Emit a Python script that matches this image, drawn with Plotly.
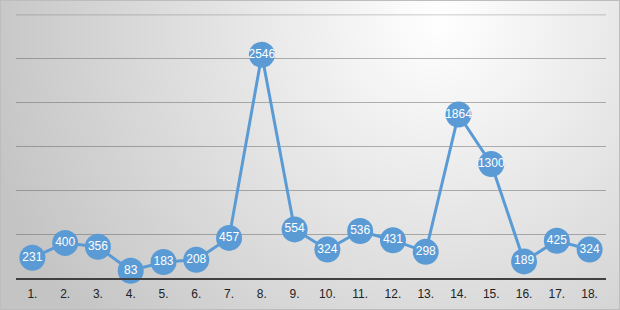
import base64
import plotly.graph_objects as go

categories = ["1.", "2.", "3.", "4.", "5.", "6.", "7.", "8.", "9.", "10.",
              "11.", "12.", "13.", "14.", "15.", "16.", "17.", "18."]
values = [231, 400, 356, 83, 183, 208, 457, 2546, 554, 324,
          536, 431, 298, 1864, 1300, 189, 425, 324]

W, H = 620, 310
ML, MR, MT, MB = 16, 14, 14, 32
PW, PH = W - ML - MR, H - MT - MB

svg = f'''<svg xmlns="http://www.w3.org/2000/svg" width="{W}" height="{H}" viewBox="0 0 {W} {H}">
<defs><radialGradient id="g" gradientUnits="userSpaceOnUse" cx="440" cy="20" r="470">
<stop offset="0" stop-color="#ffffff"/><stop offset="1" stop-color="#c4c4c4"/></radialGradient></defs>
<rect x="0" y="0" width="{W}" height="{H}" fill="url(#g)"/>
<rect x="0.5" y="0.5" width="{W-1}" height="{H-1}" fill="none" stroke="#bdbdbd" stroke-width="1"/>
</svg>'''
src = "data:image/svg+xml;base64," + base64.b64encode(svg.encode()).decode()

fig = go.Figure()
fig.add_trace(go.Scatter(
    x=categories, y=values, mode="lines+markers+text",
    line=dict(color="#5B9BD5", width=3),
    marker=dict(size=26, color="#5B9BD5"),
    text=[str(v) for v in values], textposition="middle center",
    textfont=dict(color="white", size=12, family="Liberation Sans Narrow, Liberation Sans, Arial"),
    cliponaxis=False, hoverinfo="skip",
))

fig.add_shape(type="line", xref="paper", yref="y", x0=0, x1=1, y0=3000, y1=3000,
              line=dict(color="rgba(90,90,90,0.3)", width=1), layer="below")

fig.update_layout(
    width=W, height=H, margin=dict(l=ML, r=MR, t=MT, b=MB, autoexpand=False),
    paper_bgcolor="rgba(0,0,0,0)", plot_bgcolor="rgba(0,0,0,0)",
    showlegend=False, hovermode=False,
    images=[dict(source=src, xref="paper", yref="paper",
                 x=-ML / PW, y=1 + MT / PH, sizex=W / PW, sizey=H / PH,
                 xanchor="left", yanchor="top", sizing="stretch", layer="below")],
    xaxis=dict(type="category", range=[-0.5, 17.5], showgrid=False, showline=True,
               linecolor="#404040", linewidth=2, automargin=False,
               ticks="outside", ticklen=4, tickcolor="rgba(0,0,0,0)",
               tickfont=dict(size=12, color="#222", family="Liberation Sans, Arial"),
               zeroline=False),
    yaxis=dict(range=[0, 3010], dtick=500, showgrid=True, gridcolor="rgba(90,90,90,0.45)",
               gridwidth=1, showticklabels=False, zeroline=False, showline=False,
               automargin=False),
)

fig.write_html("out.html")
